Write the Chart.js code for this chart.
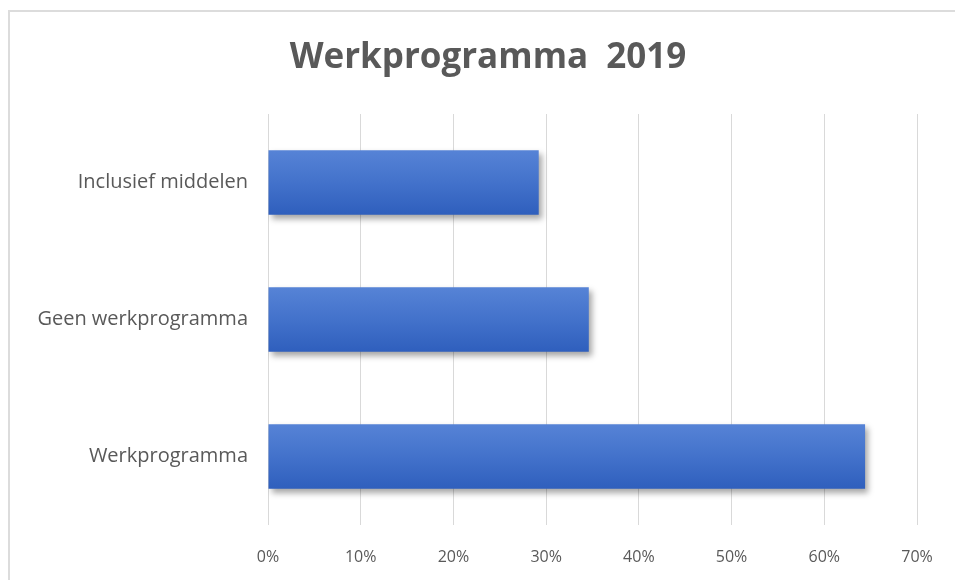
<!DOCTYPE html>
<html>
<head>
<meta charset="utf-8">
<script src="https://cdn.jsdelivr.net/npm/chart.js@4.4.1/dist/chart.umd.min.js"></script>
<style>
html,body{margin:0;padding:0;background:#fff}
#wrap{position:relative;width:955px;height:580px;overflow:hidden}
#frame{position:absolute;left:8px;top:10px;width:1000px;height:700px;border-left:2px solid #dcdcdc;border-top:2px solid #dcdcdc;box-sizing:border-box}
#c{position:absolute;left:0;top:0}
</style>
</head>
<body>
<div id="wrap">
<div id="frame"></div>
<canvas id="c" width="976" height="580"></canvas>
</div>
<script>

const titleText="Werkprogramma  2019"
const categories=["Inclusief middelen","Geen werkprogramma","Werkprogramma"]
const values=[0.292,0.346,0.644]
const tickValues=[0,0.1,0.2,0.3,0.4,0.5,0.6,0.7]

const font="'Open Sans', sans-serif"
const grey="#595959"

// blue gradient per bar, lighter on top
function barFill(ctx){
const chart=ctx.chart
const y=chart.scales.y
if(!y) return "#4472c4"
const mid=y.getPixelForValue(ctx.dataIndex)
if(!isFinite(mid)) return "#4472c4"
const g=chart.ctx.createLinearGradient(0,mid-32,0,mid+32)
g.addColorStop(0,"#5683d6")
g.addColorStop(0.5,"#4372cb")
g.addColorStop(1,"#2f5fbd")
return g
}

const shadow={
id:"shadow",
beforeDatasetsDraw(chart){
const c=chart.ctx
c.save()
c.shadowColor="rgba(0,0,0,0.35)"
c.shadowBlur=6
c.shadowOffsetX=3
c.shadowOffsetY=4
},
afterDatasetsDraw(chart){
chart.ctx.restore()
}
}

new Chart(document.getElementById("c"),{
type:"bar",
data:{labels:categories,datasets:[{data:values,backgroundColor:barFill,borderWidth:0,categoryPercentage:1,barPercentage:0.47}]},
options:{
indexAxis:"y",
responsive:false,
animation:false,
layout:{padding:0},
plugins:{
legend:{display:false},
tooltip:{enabled:false},
title:{display:true,text:titleText,color:grey,font:{family:font,size:35,weight:"bold"},padding:{top:37,bottom:35}}
},
scales:{
x:{
min:0,max:0.7,
afterBuildTicks(s){s.ticks=tickValues.map(v=>({value:v}))},
afterFit(s){s.height=55},
grid:{color:"#d9d9d9",drawTicks:false},
border:{display:false},
ticks:{color:grey,font:{family:font,size:16},padding:23,callback:v=>Math.round(v*100)+"%"}
},
y:{
afterFit(s){s.width=268},
grid:{display:false},
border:{display:false},
ticks:{color:grey,font:{family:font,size:20},padding:12}
},
// empty right-hand strip so the plot ends at 70%
yRight:{
type:"category",
position:"right",
afterFit(s){s.width=59},
grid:{display:false},
border:{display:false},
ticks:{display:false}
}
}
},
plugins:[shadow]
})

</script>
</body>
</html>
